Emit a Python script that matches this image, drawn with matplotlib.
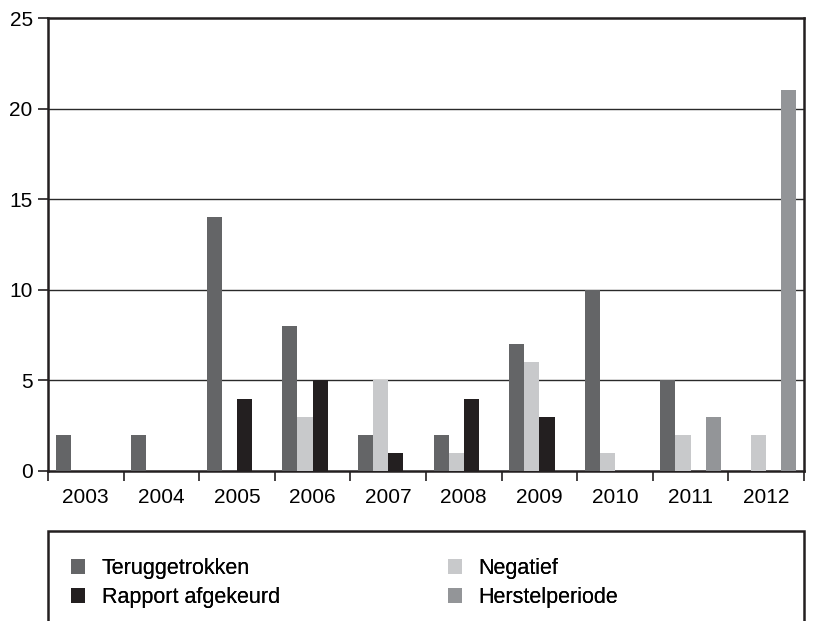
import matplotlib
matplotlib.use("Agg")
import matplotlib.pyplot as plt
import numpy as np
from matplotlib.patches import Rectangle

plt.rcParams['font.family'] = ['Liberation Sans', 'DejaVu Sans']

years = ['2003', '2004', '2005', '2006', '2007', '2008', '2009', '2010', '2011', '2012']
teruggetrokken = [2, 2, 14, 8, 2, 2, 7, 10, 5, 0]
negatief = [0, 0, 0, 3, 5, 1, 6, 1, 2, 2]
rapport_afgekeurd = [0, 0, 4, 5, 1, 4, 3, 0, 0, 0]
herstelperiode = [0, 0, 0, 0, 0, 0, 0, 0, 3, 21]

series = [
    ('Teruggetrokken', teruggetrokken, '#646567'),
    ('Negatief', negatief, '#c8c9cb'),
    ('Rapport afgekeurd', rapport_afgekeurd, '#231f20'),
    ('Herstelperiode', herstelperiode, '#939598'),
]

W, H = 817, 621
fig = plt.figure(figsize=(W / 100, H / 100), dpi=100)
ax = fig.add_axes([48 / W, 1 - 471 / H, (804 - 48) / W, (471 - 18) / H])

x = np.arange(len(years))
bw = 0.2
offsets = [-0.3, -0.1, 0.1, 0.3]
handles = {}
for (name, vals, col), off in zip(series, offsets):
    b = ax.bar(x + off, vals, width=bw, color=col, zorder=3, linewidth=0)
    handles[name] = b

ax.set_xlim(-0.5, len(years) - 0.5)
ax.set_ylim(0, 25)
ax.set_yticks([0, 5, 10, 15, 20, 25])
for yv in [5, 10, 15, 20]:
    ax.axhline(yv, color='#2a2a2a', linewidth=1.0, zorder=1)

ax.set_xticks(x)
ax.set_xticklabels(years, fontsize=15)
ax.set_xticks(np.arange(-0.5, len(years)), minor=True)
ax.tick_params(axis='x', which='major', length=0, pad=12)
ax.tick_params(axis='x', which='minor', length=7, width=1.2, color='#231f20')
ax.tick_params(axis='y', length=7, width=1.2, labelsize=15, pad=4, color='#231f20')

for s in ax.spines.values():
    s.set_linewidth(1.8)
    s.set_color('#231f20')

# legend box
fig.patches.append(Rectangle((48 / W, -0.05), (804 - 48) / W, 0.05 + (H - 531) / H,
                             transform=fig.transFigure, fill=False,
                             edgecolor='#231f20', linewidth=1.8))

cols = [(['Teruggetrokken', 'Rapport afgekeurd'], 60),
        (['Negatief', 'Herstelperiode'], 437)]
for names, xpos in cols:
    leg = fig.legend([handles[n] for n in names], names, loc='upper left',
                     bbox_to_anchor=(xpos / W, 1 - 547 / H), ncol=1, frameon=False,
                     fontsize=15.5, handlelength=0.68, handleheight=0.68,
                     handletextpad=0.75, labelspacing=0.38, borderpad=0)
    fig.add_artist(leg)

fig.savefig('out.png', dpi=100)
